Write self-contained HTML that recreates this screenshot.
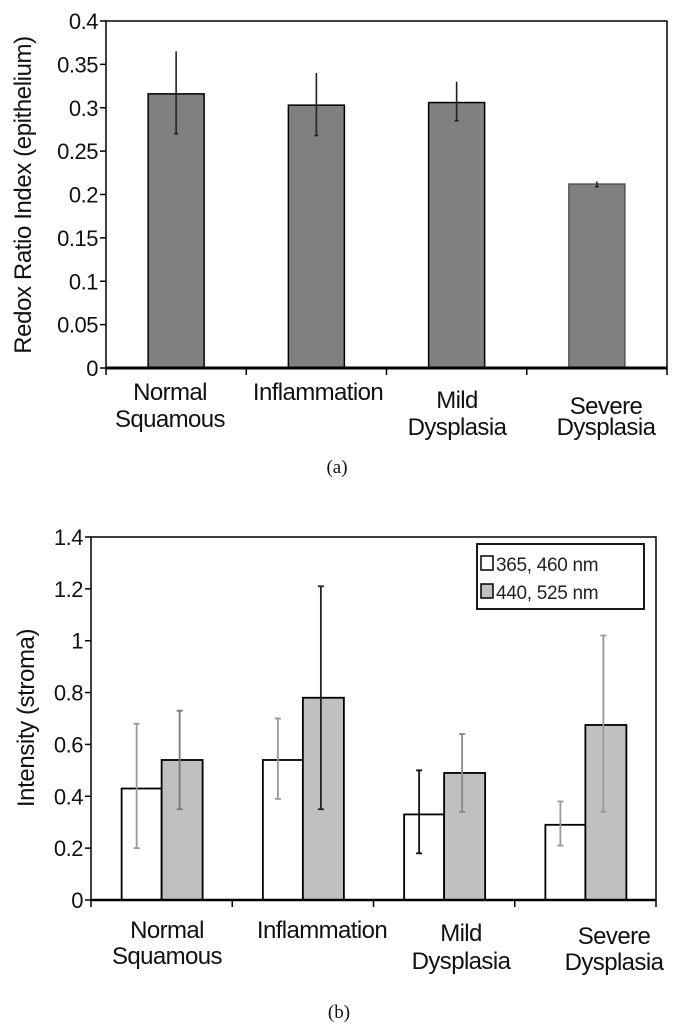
<!DOCTYPE html>
<html><head><meta charset="utf-8"><style>
html,body{margin:0;padding:0;background:#fff;}
svg{display:block;font-family:"Liberation Sans",Arial,sans-serif;}
</style></head><body>
<svg id="s" width="675" height="1026" viewBox="0 0 675 1026"></svg>
<script>
const catsA = [["Normal","Squamous"],["Inflammation"],["Mild","Dysplasia"],["Severe","Dysplasia"]];
const valsA = [0.316, 0.303, 0.306, 0.212];
const errLoA = [0.27, 0.268, 0.285, 0.209];
const errHiA = [0.365, 0.34, 0.33, 0.215];
const ticksA = ["0","0.05","0.1","0.15","0.2","0.25","0.3","0.35","0.4"];

const catsB = [["Normal","Squamous"],["Inflammation"],["Mild","Dysplasia"],["Severe","Dysplasia"]];
const valsB1 = [0.43, 0.54, 0.33, 0.29];
const valsB2 = [0.54, 0.78, 0.49, 0.675];
const errLoB1 = [0.2, 0.39, 0.18, 0.21];
const errHiB1 = [0.68, 0.70, 0.50, 0.38];
const errLoB2 = [0.35, 0.35, 0.34, 0.34];
const errHiB2 = [0.73, 1.21, 0.64, 1.02];
const ticksB = ["0","0.2","0.4","0.6","0.8","1","1.2","1.4"];

const S = document.getElementById('s');
const NS = 'http://www.w3.org/2000/svg';
function mk(tag, attrs, parent, text){
  const e = document.createElementNS(NS, tag);
  for (const k in attrs) e.setAttribute(k, attrs[k]);
  if (text !== undefined) e.textContent = text;
  (parent||S).appendChild(e);
  return e;
}

// ---------- chart A ----------
const gA = mk('g', {});


const aL=106, aR=667, aT=21, aB=368, aMax=0.4;
const yA = v => aB - v/aMax*(aB-aT);
const cwA = (aR-aL)/catsA.length;
const xA = i => aL + cwA*(i+0.5);
const plotA = mk('rect', {x:aL,y:aT,width:aR-aL,height:aB-aT,fill:'none',stroke:'#000','stroke-width':1.5}, gA);


ticksA.forEach((t,i)=>{
  const v = parseFloat(t);
  mk('line',{x1:aL-6,x2:aL,y1:yA(v),y2:yA(v),stroke:'#000','stroke-width':1.5},gA);
  const tl = mk('text',{x:aL-8,y:yA(v)+8,'text-anchor':'end','font-size':22,'letter-spacing':-0.5,fill:'#111'},gA,t);
  
  
});
for(let i=0;i<=catsA.length;i++){
  const x=aL+cwA*i;
  mk('line',{x1:x,x2:x,y1:aB,y2:aB+7,stroke:'#000','stroke-width':1.5},gA);
}
valsA.forEach((v,i)=>{
  const w=56;
  const b = mk('rect',{x:xA(i)-w/2,y:yA(v),width:w,height:aB-yA(v),fill:'#808080',stroke: i===3?'#555':'#000','stroke-width':1.5},gA);
  
  
  const e = mk('line',{x1:xA(i),x2:xA(i),y1:yA(errHiA[i]),y2:yA(errLoA[i]),stroke:'#222','stroke-width':1.6},gA);
  
  
  mk('line',{x1:xA(i)-2,x2:xA(i)+2,y1:yA(errLoA[i]),y2:yA(errLoA[i]),stroke:'#222','stroke-width':1.6},gA);
});
mk('line',{x1:aL,x2:aR,y1:aB,y2:aB,stroke:'#000','stroke-width':3},gA);
const labPosA=[[170,[392,419]],[318,[392]],[457,[400,427]],[606,[406,427]]];
catsA.forEach((c,i)=>{
  c.forEach((line,j)=>{
    const t = mk('text',{x:labPosA[i][0],y:labPosA[i][1][j]+8,'text-anchor':'middle','font-size':24,'letter-spacing':-0.6,fill:'#111'},gA,line);
    
    
  });
});
const ytA = mk('text',{x:0,y:0,transform:'translate(31,195) rotate(-90)','text-anchor':'middle','font-size':24,'letter-spacing':-0.4,fill:'#111'},gA,'Redox Ratio Index (epithelium)');


const capA = mk('text',{x:337,y:473,'text-anchor':'middle','font-size':19,'font-family':'Liberation Serif, serif',fill:'#111'},gA,'(a)');



// ---------- chart B ----------
const gB = mk('g', {});


const bL=91, bR=656, bT=537, bB=900, bMax=1.4;
const yB = v => bB - v/bMax*(bB-bT);
const cwB = (bR-bL)/catsB.length;
const xB = i => bL + cwB*(i+0.5);
const plotB = mk('rect',{x:bL,y:bT,width:bR-bL,height:bB-bT,fill:'none',stroke:'#000','stroke-width':1.5},gB);


ticksB.forEach(t=>{
  const v=parseFloat(t);
  mk('line',{x1:bL-6,x2:bL,y1:yB(v),y2:yB(v),stroke:'#000','stroke-width':1.5},gB);
  const tl = mk('text',{x:bL-8,y:yB(v)+8,'text-anchor':'end','font-size':22,'letter-spacing':-0.5,fill:'#111'},gB,t);
  
  
});
for(let i=0;i<=catsB.length;i++){
  const x=bL+cwB*i;
  mk('line',{x1:x,x2:x,y1:bB,y2:bB+7,stroke:'#000','stroke-width':1.5},gB);
}
const bw=40;
valsB1.forEach((v,i)=>{
  const x0 = xB(i)-bw;
  const b = mk('rect',{x:x0,y:yB(v),width:bw,height:bB-yB(v),fill:'#fff',stroke:'#000','stroke-width':1.8},gB);
  
  
});
valsB2.forEach((v,i)=>{
  const x0 = xB(i);
  const b = mk('rect',{x:x0,y:yB(v),width:bw+1,height:bB-yB(v),fill:'#c0c0c0',stroke:'#000','stroke-width':1.8},gB);
  
  
});
function errB(cx, lo, hi, col, nm){
  const e = mk('line',{x1:cx,x2:cx,y1:yB(hi),y2:yB(lo),stroke:col,'stroke-width':1.8},gB);
  
  
  mk('line',{x1:cx-3,x2:cx+3,y1:yB(lo),y2:yB(lo),stroke:col,'stroke-width':1.8},gB);
  mk('line',{x1:cx-3,x2:cx+3,y1:yB(hi),y2:yB(hi),stroke:col,'stroke-width':1.8},gB);
}
const colB1=['#999','#999','#111','#999'];
const colB2=['#777','#222','#888','#999'];
valsB1.forEach((v,i)=>errB(xB(i)-bw/2-5, errLoB1[i], errHiB1[i], colB1[i], 'error-bar-365-460-'+i));
valsB2.forEach((v,i)=>errB(xB(i)+bw/2-2, errLoB2[i], errHiB2[i], colB2[i], 'error-bar-440-525-'+i));
mk('line',{x1:bL,x2:bR,y1:bB,y2:bB,stroke:'#000','stroke-width':2.5},gB);
// legend
const lg = mk('g',{},gB);


mk('rect',{x:477,y:544,width:167,height:65,fill:'#fff',stroke:'#000','stroke-width':1.8},lg);
const le1 = mk('g',{},lg);


mk('rect',{x:481,y:556,width:12,height:14,fill:'#fff',stroke:'#000','stroke-width':1.5},le1);
mk('text',{x:496,y:571,'font-size':19,'letter-spacing':-0.3,fill:'#222'},le1,'365, 460 nm');
const le2 = mk('g',{},lg);


mk('rect',{x:481,y:584,width:12,height:14,fill:'#c0c0c0',stroke:'#000','stroke-width':1.5},le2);
mk('text',{x:496,y:599,'font-size':19,'letter-spacing':-0.3,fill:'#222'},le2,'440, 525 nm');
const labPosB=[[167,[930,956]],[322,[930]],[461,[933,961]],[614,[936,962]]];
catsB.forEach((c,i)=>{
  c.forEach((line,j)=>{
    const t = mk('text',{x:labPosB[i][0],y:labPosB[i][1][j]+8,'text-anchor':'middle','font-size':24,'letter-spacing':-0.6,fill:'#111'},gB,line);
    
    
  });
});
const ytB = mk('text',{x:0,y:0,transform:'translate(34,718) rotate(-90)','text-anchor':'middle','font-size':24,'letter-spacing':-0.4,fill:'#111'},gB,'Intensity (stroma)');


const capB = mk('text',{x:339,y:1018,'text-anchor':'middle','font-size':19,'font-family':'Liberation Serif, serif',fill:'#111'},gB,'(b)');


</script>
</body></html>
